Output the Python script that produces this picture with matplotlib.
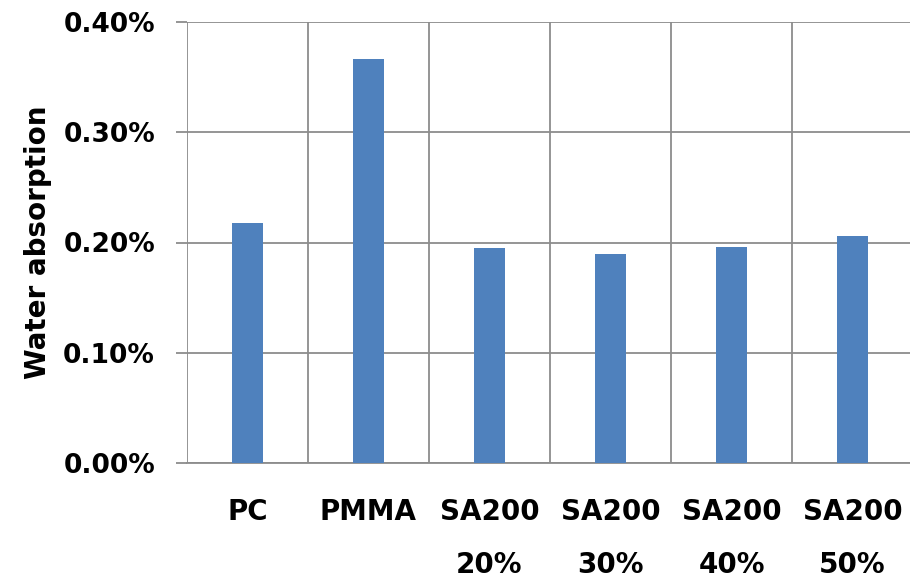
import numpy as np
import matplotlib.pyplot as plt
from matplotlib.ticker import FuncFormatter

plt.rcParams['font.family'] = ['DejaVu Sans']

categories = ['PC', 'PMMA', 'SA200\n20%', 'SA200\n30%', 'SA200\n40%', 'SA200\n50%']
absorption = [0.00218, 0.00366, 0.00195, 0.00190, 0.00196, 0.00206]

fig = plt.figure(figsize=(9.1, 5.79), dpi=100)
ax = fig.add_axes([187 / 910, 116 / 579, (913 - 187) / 910, 441 / 579])

x = np.arange(len(categories))
ax.bar(x, absorption, width=0.26, color='#4f81bd', zorder=3)

grid_col = '#8c8c8c'
ax.set_ylim(0, 0.004)
ax.set_xlim(-0.5, len(categories) - 0.5)
ax.set_yticks([0, 0.001, 0.002, 0.003, 0.004])
ax.yaxis.set_major_formatter(FuncFormatter(lambda v, p: '%.2f%%' % (v * 100)))
ax.yaxis.grid(True, color=grid_col, lw=1.3, zorder=0)
for b in np.arange(-0.5, len(categories) - 0.5, 1.0):
    ax.axvline(b, color=grid_col, lw=1.3, zorder=0)

for s in ['top', 'right', 'left']:
    ax.spines[s].set_visible(False)
ax.spines['bottom'].set_color(grid_col)
ax.spines['bottom'].set_linewidth(1.3)
ax.tick_params(axis='y', length=8, width=1.3, color=grid_col, pad=15, labelsize=19)
ax.tick_params(axis='x', length=0, pad=25, labelsize=20)

ax.set_xticks(x)
ax.set_xticklabels(categories, fontweight='bold', linespacing=2.15, va='top')
for lbl in ax.get_yticklabels():
    lbl.set_fontweight('bold')

ax.set_ylabel('Water absorption', fontsize=20, fontweight='bold', labelpad=8)

fig.savefig('out.png', dpi=100)
